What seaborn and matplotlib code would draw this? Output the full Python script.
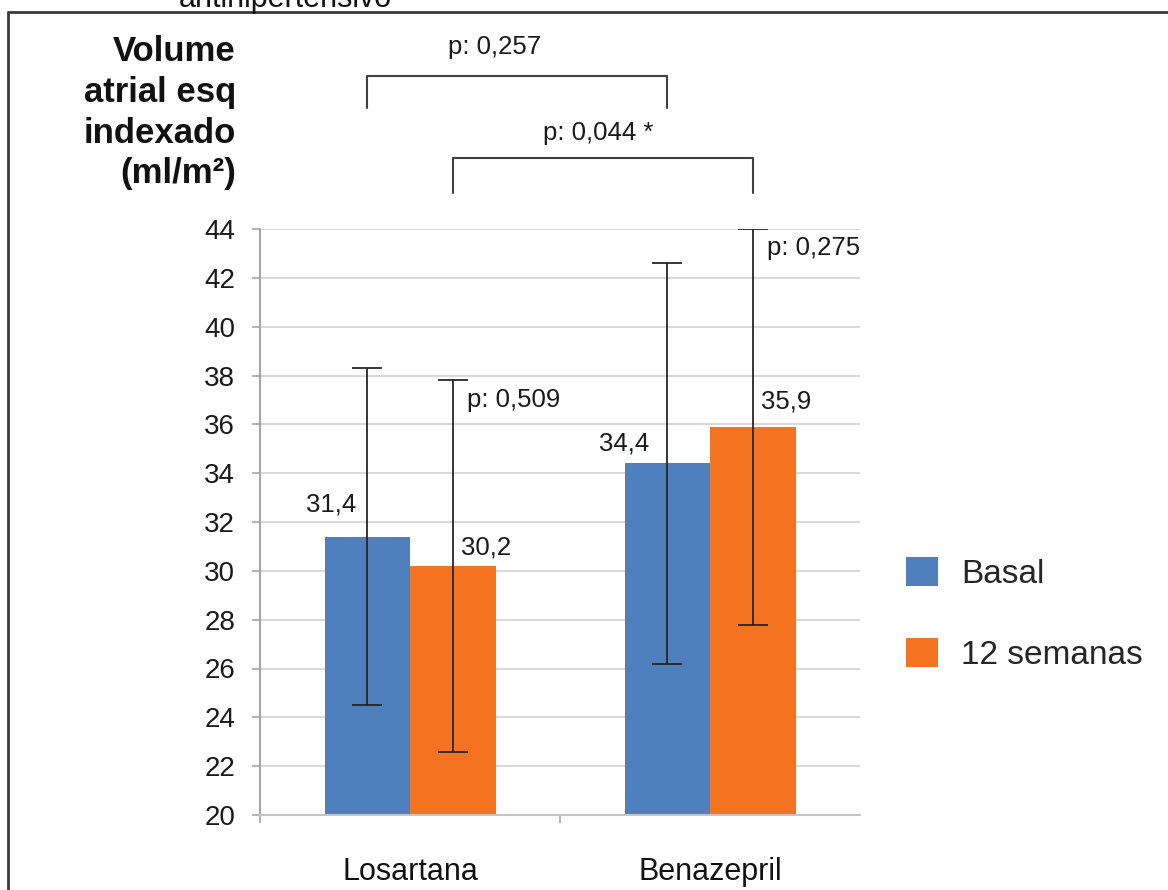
import numpy as np
import pandas as pd
import matplotlib
matplotlib.use("Agg")
import matplotlib.pyplot as plt
import seaborn as sns
from matplotlib.lines import Line2D

# data
groups = ["Losartana", "Benazepril"]
periods = ["Basal", "12 semanas"]
basal = [31.4, 34.4]
semanas12 = [30.2, 35.9]
basal_sd = [6.9, 8.2]
semanas12_sd = [7.6, 8.1]
labels_basal = ["31,4", "34,4"]
labels_12 = ["30,2", "35,9"]
p_within = ["p: 0,509", "p: 0,275"]
p_between = ["p: 0,257", "p: 0,044 *"]
yticks = [20, 22, 24, 26, 28, 30, 32, 34, 36, 38, 40, 42, 44]
colors = ["#4F7FBC", "#F47320"]

sns.set_style("white")
plt.rcParams["font.family"] = ["Liberation Sans", "DejaVu Sans"]

W, H = 1168, 890
fig = plt.figure(figsize=(W / 100, H / 100), dpi=100)
ax = fig.add_axes([260 / W, 1 - 815 / H, 600 / W, 586 / H])

df = pd.DataFrame({
    "grupo": groups + groups,
    "momento": [periods[0]] * len(groups) + [periods[1]] * len(groups),
    "valor": basal + semanas12,
})
sns.barplot(data=df, x="grupo", y="valor", hue="momento", order=groups,
            hue_order=periods, palette=colors, width=0.57, errorbar=None,
            saturation=1, linewidth=0, ax=ax, zorder=2)

ax.set_axisbelow(True)
ax.set_ylim(20, 44)
ax.set_xlim(-0.5, 1.5)
ax.set_yticks(yticks)
ax.yaxis.grid(True, color="#d9d9d9", lw=1.5)
ax.xaxis.grid(False)
for s in ["top", "right"]:
    ax.spines[s].set_visible(False)
ax.spines["left"].set_color("#a6a6a6")
ax.spines["left"].set_linewidth(1.5)
ax.spines["bottom"].set_color("#c4c4c4")
ax.spines["bottom"].set_linewidth(1.5)
ax.tick_params(axis="y", left=True, length=6, width=1.2, color="#a6a6a6",
               pad=12, labelsize=20, labelcolor="#1a1a1a")
ax.tick_params(axis="x", which="major", length=0, pad=30, labelsize=22,
               labelcolor="#111111")
ax.set_xticks([-0.5, 0.5], minor=True)
ax.tick_params(axis="x", which="minor", bottom=True, length=6, width=1.2,
               color="#a6a6a6")
ax.set_xlabel("")
ax.set_ylabel("")

# error bars, value labels and within-group p values
bar_conts = list(ax.containers)[:2]
sds = [basal_sd, semanas12_sd]
vlabels = [labels_basal, labels_12]
label_off = [[(-26, 23), (-31, 14)], [(24, 13), (24, 18)]]
centers = []
for k, cont in enumerate(bar_conts):
    xs = [p.get_x() + p.get_width() / 2 for p in cont]
    ys = [p.get_height() for p in cont]
    centers.append(xs)
    ax.errorbar(xs, ys, yerr=sds[k], fmt="none", ecolor="#262626",
                elinewidth=1.3, capsize=11, capthick=1.3, zorder=3)
    for i in range(len(xs)):
        ax.annotate(vlabels[k][i], (xs[i], ys[i]), xytext=label_off[k][i],
                    textcoords="offset points", ha="center", va="center",
                    fontsize=18.5, color="#1a1a1a")
        if k == 1:
            ax.annotate(p_within[i], (xs[i], ys[i] + sds[k][i]),
                        xytext=(10, -14), textcoords="offset points",
                        ha="left", va="center", fontsize=18.5, color="#1a1a1a")

# brackets above the plot
brackets = [(centers[0][0], centers[0][1], 48.95, 50.27, -16, 21),
            (centers[1][0], centers[1][1], 45.47, 46.91, -3, 18)]
for (x0, x1, yb, yt, dx, dy), txt in zip(brackets, p_between):
    ax.plot([x0, x0, x1, x1], [yb, yt, yt, yb], color="#404040", lw=1.5,
            clip_on=False)
    ax.annotate(txt, ((x0 + x1) / 2, yt), xytext=(dx, dy),
                textcoords="offset points", ha="center", va="center",
                fontsize=18.5, color="#1a1a1a", annotation_clip=False)

ax.legend(loc="upper left", bbox_to_anchor=(906 / W, 1 - 557 / H),
          bbox_transform=fig.transFigure, frameon=False, fontsize=24,
          handlelength=0.95, handleheight=0.95, handletextpad=0.7,
          labelspacing=1.45, borderpad=0, borderaxespad=0)

fig.text(236 / W, 1 - 35 / H, "Volume\natrial esq\nindexado\n(ml/m²)",
         ha="right", va="top", fontsize=25, fontweight="bold",
         linespacing=1.3, color="#111111")

# cut-off title and frame from the source page
fig.text(285 / W, 1 - 7 / H, "antihipertensivo", ha="center", va="baseline",
         fontsize=22, color="#111111")
fig.add_artist(Line2D([8 / W, 8 / W], [0, 1 - 12 / H], transform=fig.transFigure,
                      color="#3a3a3a", lw=2))
fig.add_artist(Line2D([8 / W, 1], [1 - 12 / H, 1 - 12 / H],
                      transform=fig.transFigure, color="#3a3a3a", lw=2))

fig.savefig("out.png", dpi=100)
